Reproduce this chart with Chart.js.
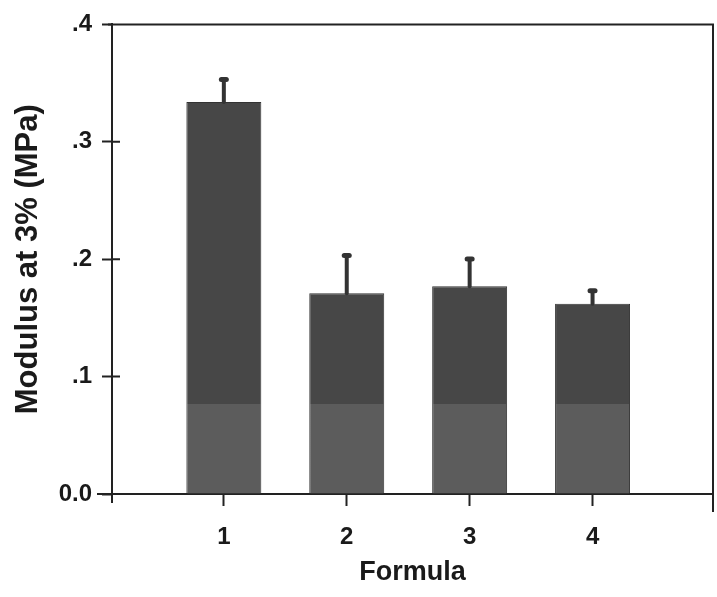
<!DOCTYPE html>
<html>
<head>
<meta charset="utf-8">
<script src="https://cdn.jsdelivr.net/npm/chart.js@4.4.1/dist/chart.umd.min.js"></script>
<style>
  html, body { margin: 0; padding: 0; background: #ffffff; }
  #wrap { width: 717px; height: 597px; }
</style>
</head>
<body>
<div id="wrap"><canvas id="c" width="717" height="597"></canvas></div>
<script>
// ---- data ----
const categories = [1, 2, 3, 4];
const modulus = [0.334, 0.171, 0.177, 0.162];      // bar heights (MPa)
const errorUpper = [0.020, 0.033, 0.024, 0.012];   // upper error (MPa)
const yTickValues = [0, 0.1, 0.2, 0.3, 0.4];
const yTickLabels = ['0.0', '.1', '.2', '.3', '.4'];
const xTitle = 'Formula';
const yTitle = 'Modulus at 3% (MPa)';

const FONT = "'Liberation Sans', Arial, sans-serif";
const INK = '#222222';
const BAR_DARK = '#474747';
const BAR_LIGHT = '#5c5c5c';
const SCAN_BAND = 0.077; // lighter lower band of the scanned bars

const errorBars = {
  id: 'errorBars',
  afterDatasetsDraw(chart) {
    const { ctx, scales } = chart;
    ctx.save();
    ctx.strokeStyle = '#333333';
    ctx.lineCap = 'round';
    categories.forEach((c, i) => {
      const x = scales.x.getPixelForValue(c);
      const yTop = scales.y.getPixelForValue(modulus[i] + errorUpper[i]);
      const yBar = scales.y.getPixelForValue(modulus[i]);
      ctx.lineWidth = 4;
      ctx.beginPath();
      ctx.moveTo(x, yBar);
      ctx.lineTo(x, yTop + 2);
      ctx.stroke();
      ctx.lineWidth = 5;
      ctx.beginPath();
      ctx.moveTo(x - 2.5, yTop + 1);
      ctx.lineTo(x + 2.5, yTop + 1);
      ctx.stroke();
    });
    ctx.restore();
  }
};

const frame = {
  id: 'frame',
  afterDraw(chart) {
    const { ctx, chartArea: a, scales } = chart;
    ctx.save();
    ctx.strokeStyle = INK;
    ctx.lineWidth = 2;
    ctx.beginPath();
    // top line
    ctx.moveTo(a.left - 4, a.top);
    ctx.lineTo(a.right, a.top);
    // right line, extends below the axis
    ctx.moveTo(a.right, a.top - 1);
    ctx.lineTo(a.right, a.bottom + 18);
    // y-axis extension below the x axis
    ctx.moveTo(a.left, a.bottom);
    ctx.lineTo(a.left, a.bottom + 9);
    // x-axis extension left of the y axis
    ctx.moveTo(a.left, a.bottom);
    ctx.lineTo(a.left - 15, a.bottom);
    // inner halves of y ticks
    yTickValues.forEach(v => {
      const y = scales.y.getPixelForValue(v);
      ctx.moveTo(a.left, y);
      ctx.lineTo(a.left + 8, y);
    });
    ctx.stroke();
    ctx.restore();
  }
};

new Chart(document.getElementById('c'), {
  type: 'bar',
  data: {
    datasets: [{
      data: categories.map((c, i) => ({ x: c, y: modulus[i] })),
      backgroundColor(context) {
        const chart = context.chart;
        const a = chart.chartArea;
        if (!a) return BAR_DARK;
        const y0 = chart.scales.y.getPixelForValue(0);
        const yb = chart.scales.y.getPixelForValue(SCAN_BAND);
        const g = chart.ctx.createLinearGradient(0, a.top, 0, y0);
        const f = (yb - a.top) / (y0 - a.top);
        g.addColorStop(0, BAR_DARK);
        g.addColorStop(f, BAR_DARK);
        g.addColorStop(Math.min(1, f + 0.001), BAR_LIGHT);
        g.addColorStop(1, BAR_LIGHT);
        return g;
      },
      borderColor: '#333333',
      borderWidth: 1,
      categoryPercentage: 1,
      barPercentage: 0.61
    }]
  },
  options: {
    responsive: false,
    animation: false,
    devicePixelRatio: 1,
    layout: { padding: { top: 21, right: 4, left: 0, bottom: 0 } },
    plugins: { legend: { display: false }, tooltip: { enabled: false } },
    scales: {
      x: {
        type: 'linear',
        offset: false,
        min: 0.09,
        max: 4.98,
        afterBuildTicks(scale) { scale.ticks = categories.map(v => ({ value: v })); },
        afterFit(scale) { scale.height = 103; },
        grid: { offset: false, drawOnChartArea: false, drawTicks: true, tickLength: 12, tickWidth: 2, color: INK },
        border: { display: true, width: 2, color: INK },
        ticks: {
          color: '#1a1a1a',
          font: { family: FONT, size: 24, weight: 'bold' },
          padding: 17,
          maxRotation: 0,
          callback: v => String(v)
        },
        title: {
          display: true,
          text: xTitle,
          color: '#1a1a1a',
          font: { family: FONT, size: 27, weight: 'bold' },
          padding: { top: 0, bottom: 8 }
        }
      },
      y: {
        min: 0,
        max: 0.4,
        afterBuildTicks(scale) { scale.ticks = yTickValues.map(v => ({ value: v })); },
        afterFit(scale) { scale.width = 112; },
        grid: { drawOnChartArea: false, drawTicks: true, tickLength: 10, tickWidth: 2, color: INK },
        border: { display: true, width: 2, color: INK },
        ticks: {
          color: '#1a1a1a',
          font: { family: FONT, size: 24, weight: 'bold' },
          padding: 10,
          callback: (v) => yTickLabels[yTickValues.indexOf(v)] ?? ''
        },
        title: {
          display: true,
          text: yTitle,
          color: '#1a1a1a',
          font: { family: FONT, size: 31, weight: 'bold' },
          padding: { top: 10, bottom: 0 }
        }
      }
    }
  },
  plugins: [errorBars, frame]
});
</script>
</body>
</html>
